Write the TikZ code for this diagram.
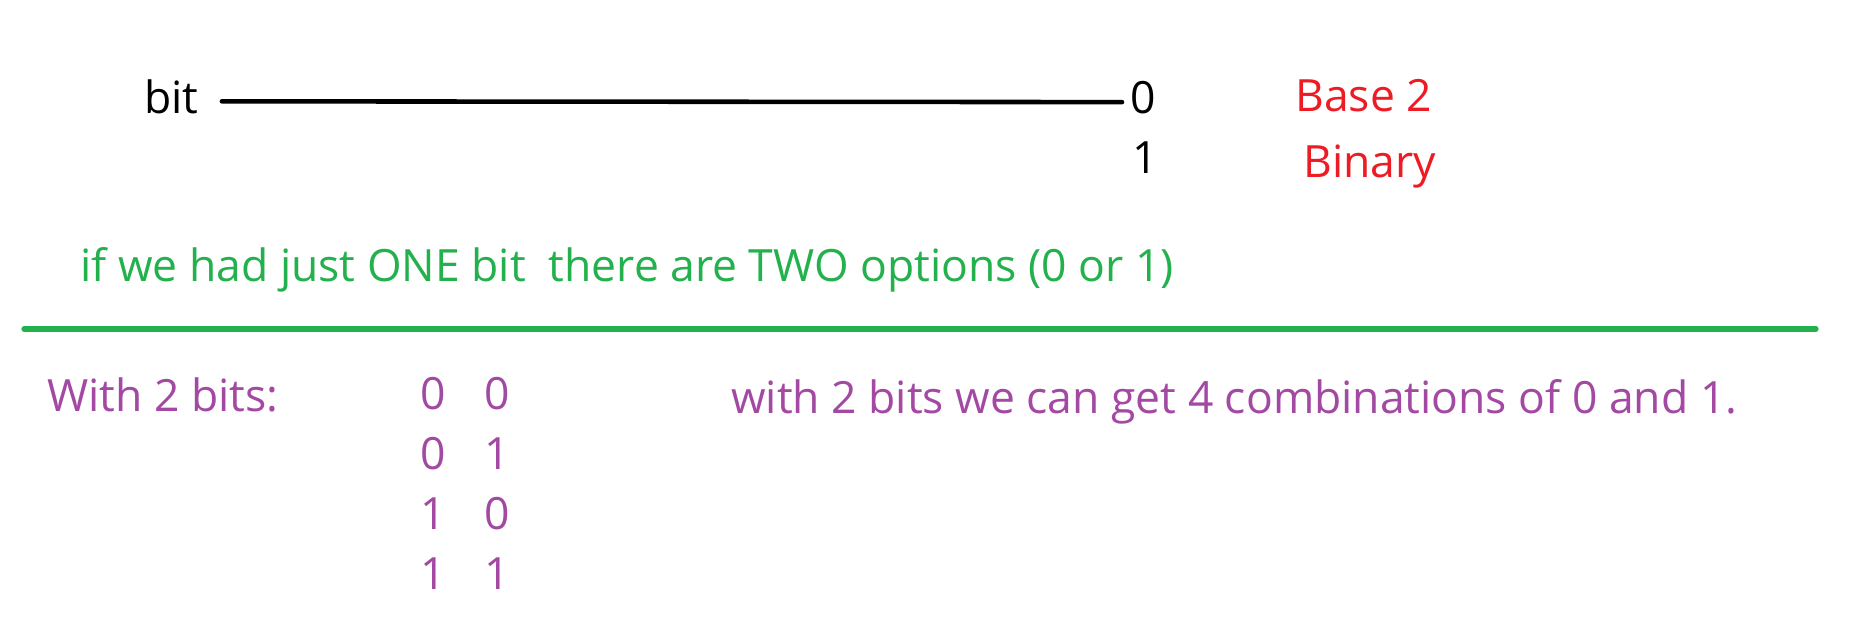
\documentclass[tikz,border=0pt]{standalone}
\usepackage{fontspec}
\setmainfont{Open Sans}
\usetikzlibrary{positioning,calc}
\definecolor{Red}{HTML}{ED1C24}
\definecolor{Green}{HTML}{22B14C}
\definecolor{Purple}{HTML}{A349A4}
\definecolor{Ink}{HTML}{000000}
\tikzset{
  txt/.style={anchor=base west,inner sep=0pt,font=\fontsize{25.3}{30}\selectfont},
  blk/.style={txt,text=Ink},
  red/.style={txt,text=Red},
  grn/.style={txt,text=Green},
  prp/.style={txt,text=Purple},
  wire/.style={draw=Ink,line width=2.6pt,line cap=round},
  rule/.style={draw=Green,line width=3pt,line cap=round},
}
\begin{document}
\begin{tikzpicture}[x=0.2mm,y=-0.2mm]
    \useasboundingbox (0,0) rectangle (1849,631);

    % one bit
    \node[blk] (bit) at (144,113) {bit};
    \node[blk] (zero) at (1130,113) {0};
    \node[blk] (one) at (1132,173) {1};
    \draw[wire] ([xshift=4.6mm,yshift=-1.0mm]bit.east) -- ([xshift=-1.6mm,yshift=-1.0mm]zero.west);
    \node[red] (base) at (1295,111) {Base 2};
    \node[red] (binary) at (1303,177) {Binary};

    \node[grn] (onebit) at (80,281) {if we had just ONE bit\ \ there are TWO options (0 or 1)};
    \draw[rule] (24,329) -- (1816,329);

    % two bits
    \node[prp] (twobits) at (47,411) {With 2 bits:};
    \foreach \a/\b [count=\i] in {0/0,0/1,1/0,1/1}{
      \node[prp] (l\i) at (420,349+60*\i) {\a};
      \node[prp] (r\i) at (484,349+60*\i) {\b};
    }
    \node[prp] (combos) at (731,413) {with 2 bits we can get 4 combinations of 0 and 1.};
  \end{tikzpicture}
\end{document}
